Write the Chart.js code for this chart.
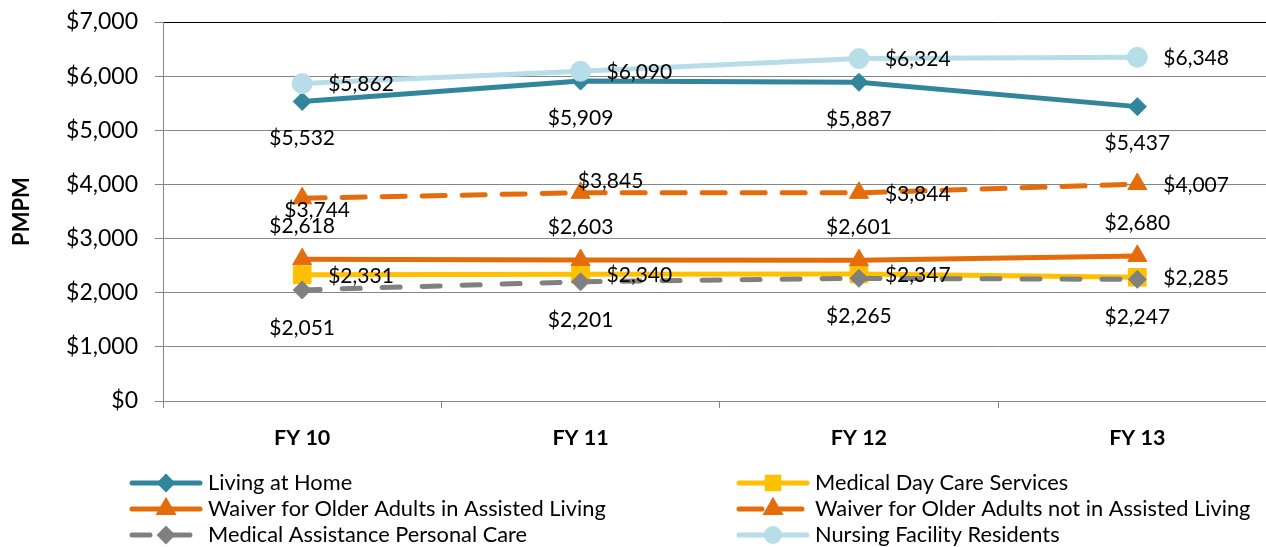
<!DOCTYPE html>
<html>
<head>
<meta charset="utf-8">
<script src="https://cdn.jsdelivr.net/npm/chart.js@4.4.1/dist/chart.umd.min.js"></script>
<style>
  html, body { margin: 0; padding: 0; background: #fff; overflow: hidden; }
  #wrap { width: 1266px; height: 547px; overflow: hidden; position: relative; }
</style>
</head>
<body>
<div id="wrap"><canvas id="chart" width="1290" height="547"></canvas></div>
<script>
// data
const years = ['FY 10', 'FY 11', 'FY 12', 'FY 13'];
const livingAtHome = [5532, 5909, 5887, 5437];
const medicalDayCare = [2331, 2340, 2347, 2285];
const waiverInAL = [2618, 2603, 2601, 2680];
const waiverNotInAL = [3744, 3845, 3844, 4007];
const maPersonalCare = [2051, 2201, 2265, 2247];
const nursingFacility = [5862, 6090, 6324, 6348];
const yTicks = [0, 1000, 2000, 3000, 4000, 5000, 6000, 7000];

const FONT = 'Lato';
const money = v => '$' + v.toLocaleString('en-US');

function makeSet(label, data, color, pointStyle, radius, dash, labelPos) {
    return {
        label: label,
        data: data,
        borderColor: color,
        backgroundColor: color,
        pointBackgroundColor: color,
        pointBorderColor: color,
        pointBorderWidth: 1,
        pointStyle: pointStyle,
        pointRadius: radius,
        borderWidth: 5,
        borderDash: dash,
        borderCapStyle: 'round',
        tension: 0,
        labelPos: labelPos
    };
}

const datasets = [
    makeSet('Living at Home', livingAtHome, '#31859C', 'rectRot', 9, [], [[0, 37], [0, 37], [0, 37], [0, 37]]),
    makeSet('Medical Day Care Services', medicalDayCare, '#FFC000', 'rect', 12.5, [], 'right'),
    makeSet('Waiver for Older Adults in Assisted Living', waiverInAL, '#E46C0A', 'triangle', 11, [], [[0, -33], [0, -33], [0, -33], [0, -33]]),
    makeSet('Waiver for Older Adults not in Assisted Living', waiverNotInAL, '#E46C0A', 'triangle', 11, [23, 17], [[15, 12], [30, -12], 'right', 'right']),
    makeSet('Medical Assistance Personal Care', maPersonalCare, '#808080', 'rectRot', 9, [18, 22], [[0, 38], [0, 38], [0, 38], [0, 38]]),
    makeSet('Nursing Facility Residents', nursingFacility, '#B7DEE8', 'circle', 10, [], 'right')
];
// later series sit on top, like the original
datasets.forEach((d, i) => { d.order = datasets.length - i; });

const labelPlugin = {
    id: 'pointLabels',
    afterDatasetsDraw(chart) {
        const ctx = chart.ctx;
        ctx.save();
        ctx.font = '21px ' + FONT;
        ctx.fillStyle = '#000';
        ctx.textBaseline = 'middle';
        chart.data.datasets.forEach((ds, i) => {
            const meta = chart.getDatasetMeta(i);
            meta.data.forEach((pt, j) => {
                let pos = Array.isArray(ds.labelPos) ? ds.labelPos[j] : ds.labelPos;
                const txt = money(ds.data[j]);
                if (pos === 'right') {
                    ctx.textAlign = 'left';
                    ctx.fillText(txt, pt.x + 26, pt.y + 1);
                } else {
                    ctx.textAlign = 'center';
                    ctx.fillText(txt, pt.x + pos[0], pt.y + pos[1]);
                }
            });
        });
        ctx.restore();
    }
};

const legendPlugin = {
    id: 'sideLegend',
    afterDraw(chart) {
        const ctx = chart.ctx;
        const cols = [130, 737];
        const rows = [483, 509, 535];
        ctx.save();
        chart.data.datasets.forEach((ds, i) => {
            const x0 = cols[i % 2];
            const y = rows[Math.floor(i / 2)];
            ctx.strokeStyle = ds.borderColor;
            ctx.lineWidth = 5;
            ctx.lineCap = 'round';
            ctx.setLineDash(ds.borderDash);
            ctx.beginPath();
            ctx.moveTo(x0 + 2, y);
            ctx.lineTo(x0 + 70, y);
            ctx.stroke();
            ctx.setLineDash([]);
            Chart.helpers.drawPoint(ctx, {
                pointStyle: ds.pointStyle,
                radius: ds.pointRadius * 0.65,
                borderWidth: 1
            }, x0 + 36, y);
            ctx.fillStyle = ds.borderColor;
            ctx.fill();
            ctx.fillStyle = '#000';
            ctx.font = '21.8px ' + FONT;
            ctx.textAlign = 'left';
            ctx.textBaseline = 'middle';
            ctx.fillText(ds.label, x0 + 78, y);
        });
        // y axis title
        ctx.translate(22, (chart.chartArea.top + chart.chartArea.bottom) / 2);
        ctx.rotate(-Math.PI / 2);
        ctx.font = 'bold 22px ' + FONT;
        ctx.textAlign = 'center';
        ctx.fillText('PMPM', 0, 0);
        ctx.restore();
    }
};

function renderChart() {
    const ctx = document.getElementById('chart').getContext('2d');
    new Chart(ctx, {
        type: 'line',
        data: { labels: years, datasets: datasets },
        options: {
            responsive: false,
            animation: false,
            layout: { padding: { top: 22, right: 8, left: 0, bottom: 0 } },
            plugins: { legend: { display: false }, tooltip: { enabled: false } },
            scales: {
                x: {
                    offset: true,
                    afterFit(s) { s.height = 146; s.paddingLeft = 0; s.paddingRight = 0; },
                    grid: { offset: true, drawOnChartArea: false, color: '#868686', tickLength: 7 },
                    border: { color: '#868686' },
                    ticks: { color: '#000', font: { family: FONT, size: 21.5, weight: 'bold' }, padding: 17 }
                },
                y: {
                    min: 0,
                    max: 7000,
                    afterFit(s) { s.width = 163; s.paddingTop = 0; s.paddingBottom = 0; },
                    afterBuildTicks(s) { s.ticks = yTicks.map(v => ({ value: v })); },
                    grid: {
                        color: c => (c.tick && c.tick.value === 7000) ? '#000' : '#868686',
                        tickColor: '#868686',
                        tickLength: 8
                    },
                    border: { color: '#868686' },
                    ticks: { color: '#000', font: { family: FONT, size: 23 }, padding: 17, callback: v => money(v) }
                }
            }
        },
        plugins: [labelPlugin, legendPlugin]
    });
}
renderChart();
</script>
</body>
</html>
